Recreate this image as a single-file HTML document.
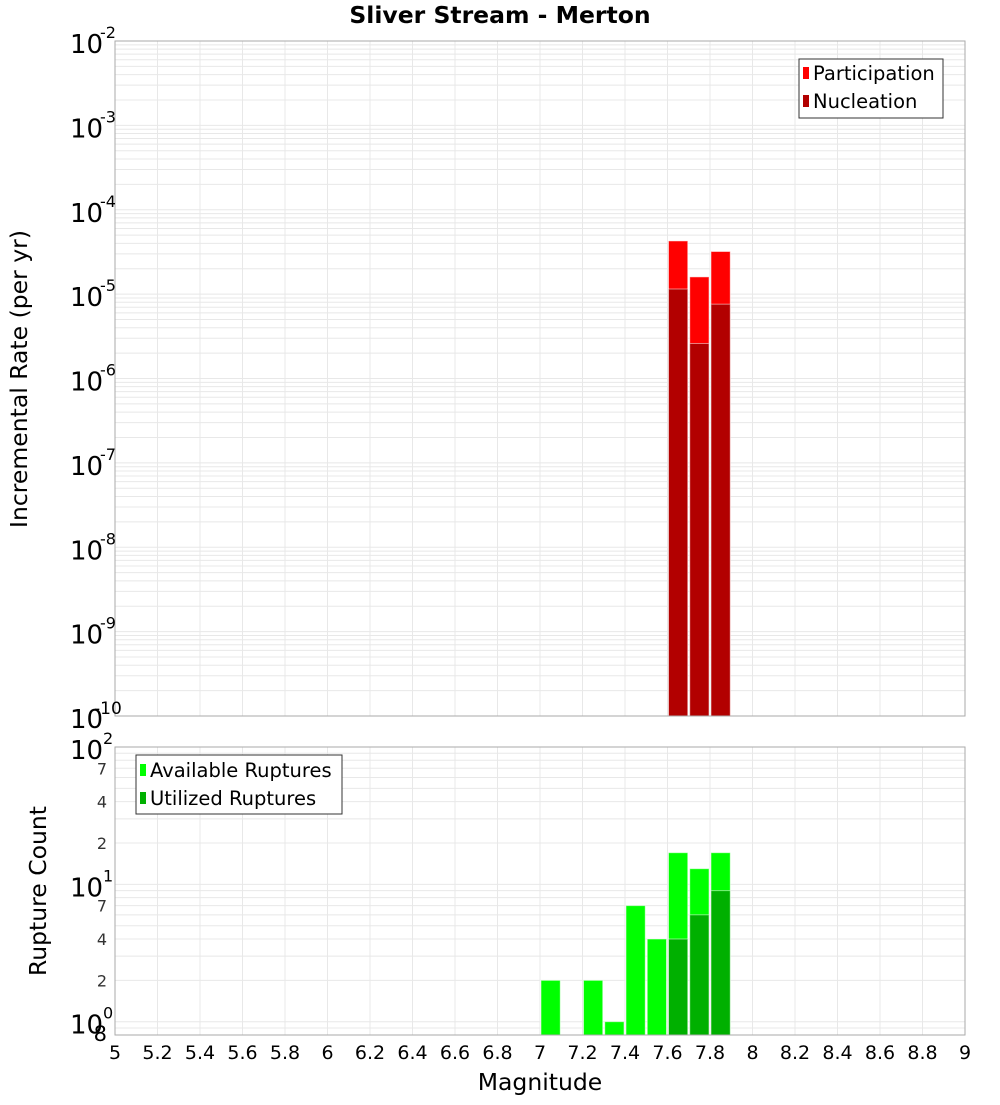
<!DOCTYPE html>
<html><head><meta charset="utf-8"><style>
body{margin:0;background:#fff;font-family:"Liberation Sans","DejaVu Sans",sans-serif}
</style></head><body>
<svg id="c" width="1000" height="1100" xmlns="http://www.w3.org/2000/svg" font-family="DejaVu Sans, Liberation Sans, sans-serif">
<text x="500" y="23" text-anchor="middle" font-weight="bold" font-size="23.5">Sliver Stream - Merton</text>
<g id="top"></g><g id="bot"></g>
</svg>
<script>
const bins=[7.05,7.25,7.35,7.45,7.55,7.65,7.75,7.85];
const partBins=[7.65,7.75,7.85];
const participation=[4.27e-5,1.6e-5,3.2e-5];
const nucleation=[1.15e-5,2.6e-6,7.6e-6];
const available=[2,2,1,7,4,17,13,17];
const utilized=[0,0,0,0,0,4,6,9];
const xTicks=[5,5.2,5.4,5.6,5.8,6,6.2,6.4,6.6,6.8,7,7.2,7.4,7.6,7.8,8,8.2,8.4,8.6,8.8,9];

const NS='http://www.w3.org/2000/svg';
const svg=document.getElementById('c');
const L=115,R=965;
const X=v=>L+(v-5)/(9-5)*(R-L);
function mk(tag,attrs,parent){const e=document.createElementNS(NS,tag);for(const k in attrs)e.setAttribute(k,attrs[k]);(parent||svg).appendChild(e);return e;}
const tT=41,tB=716;const YT=v=>tT+(-2-Math.log10(v))/8*(tB-tT);
const bT=747,bB=1035;const lmin=Math.log10(0.8);const YB=v=>bT+(2-Math.log10(v))/(2-lmin)*(bB-bT);
function grid(top,bot,Y,d0,d1,lo,hi){
 for(let d=d0;d<d1;d++)for(let m=1;m<10;m++){const v=m*Math.pow(10,d);if(v<lo||v>hi)continue;const y=Y(v);
  const g=mk('line',{x1:L,x2:R,y1:y,y2:y,stroke:'#e8e8e8','stroke-width':1});
  
  }
 for(const t of xTicks){const g=mk('line',{x1:X(t),x2:X(t),y1:top,y2:bot,stroke:'#e8e8e8'});
  
  }
}
grid(tT,tB,YT,-10,-1,1e-10,1e-2);
grid(bT,bB,YB,-1,3,0.8,100);
function bar(x0,v,Y,base,fill,name){const xa=X(x0-0.05)+1,xb=X(x0+0.05)-1;const y=Y(v);
 const r=mk('rect',{x:xa,y:y,width:xb-xa,height:base-y,fill:fill,stroke:'#fff','stroke-opacity':0.5});
 
 }
partBins.forEach((b,i)=>bar(b,participation[i],YT,tB,'#ff0000','participation-bar'));
partBins.forEach((b,i)=>bar(b,nucleation[i],YT,tB,'#b20000','nucleation-bar'));
bins.forEach((b,i)=>bar(b,available[i],YB,bB,'#00ff00','available-bar'));
bins.forEach((b,i)=>{if(utilized[i]>0)bar(b,utilized[i],YB,bB,'#00b000','utilized-bar');});
mk('rect',{x:L,y:tT,width:R-L,height:tB-tT,fill:'none',stroke:'#aaa'});
mk('rect',{x:L,y:bT,width:R-L,height:bB-bT,fill:'none',stroke:'#aaa'});
for(let e=-2;e>=-10;e--){const y=YT(Math.pow(10,e));
 const t=mk('text',{x:70,y:y+12,'font-size':26});t.textContent='10';
 
 
 const s=mk('text',{x:e===-10?94:100,y:e===-10?y-2:y-3,'font-size':e===-10?17:16});s.textContent=String(e);
 
 }
[[2,'2'],[1,'1'],[0,'0']].forEach(([e,s])=>{const y=YB(Math.pow(10,e));
 const t=mk('text',{x:70,y:y+12,'font-size':26});t.textContent='10';
 
 
 const u=mk('text',{x:103,y:y-3,'font-size':16});u.textContent=s;
 
 });
[70,40,20,7,4,2].forEach(v=>{const y=YB(v);const t=mk('text',{x:107,y:y+6,'font-size':16,'text-anchor':'end',fill:'#333'});t.textContent=String(v).replace('0','');
 
 });
{const t=mk('text',{x:107,y:1041,'font-size':21,'text-anchor':'end'});t.textContent='8';
 
 }
for(const t of xTicks){const e=mk('text',{x:X(t),y:1059,'font-size':19,'text-anchor':'middle'});e.textContent=String(t);
 
 }
</script>
<svg style="position:absolute;left:0;top:0" width="1000" height="1100" font-family="DejaVu Sans, Liberation Sans, sans-serif">
<text x="540" y="1090" text-anchor="middle" font-size="23.5">Magnitude</text>
<text transform="translate(27,379) rotate(-90)" text-anchor="middle" font-size="23.5">Incremental Rate (per yr)</text>
<text transform="translate(46,891) rotate(-90)" text-anchor="middle" font-size="23.5">Rupture Count</text>
<g>
<rect x="799" y="59" width="144" height="59" fill="#fff" stroke="#333"/>
<rect x="803" y="67" width="6" height="12" fill="#ff0000"/><text x="813" y="80" font-size="19.5">Participation</text>
<rect x="803" y="95" width="6" height="12" fill="#b20000"/><text x="813" y="108" font-size="19.5">Nucleation</text>
</g>
<g>
<rect x="136" y="755" width="206" height="59" fill="#fff" stroke="#333"/>
<rect x="140" y="764" width="6" height="12" fill="#00ff00"/><text x="150" y="777" font-size="19.5">Available Ruptures</text>
<rect x="140" y="792" width="6" height="12" fill="#00b000"/><text x="150" y="805" font-size="19.5">Utilized Ruptures</text>
</g>
</svg>
</body></html>
